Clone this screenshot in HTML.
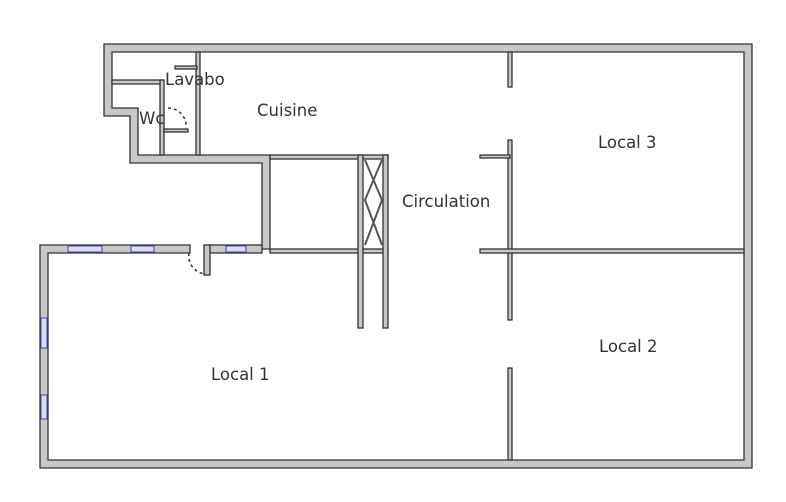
<!DOCTYPE html>
<html><head><meta charset="utf-8"><style>body{margin:0;background:#fff}svg{display:block}text{font-family:"DejaVu Sans","Liberation Sans",sans-serif;font-size:16.5px;fill:#333}</style></head>
<body>
<svg width="786" height="502" viewBox="0 0 786 502">
<g fill="#c8c8c8" stroke="#333" stroke-width="1.3">
<path d="M104,44 H752 V468 H40 V245 H190 V253 H48 V460 H744 V52 H112 V108 H138 V155 H270 V249 H262 V163 H130 V116 H104 Z"/>
<rect x="208" y="245" width="54" height="8"/>
<rect x="204" y="245" width="6" height="30"/>
<rect x="196" y="52" width="4" height="103"/>
<rect x="175" y="66" width="22" height="3"/>
<rect x="112" y="80" width="50" height="4"/>
<rect x="160" y="80" width="4" height="75"/>
<rect x="164" y="129" width="24" height="3"/>
<rect x="270" y="155" width="118" height="4"/>
<rect x="270" y="249" width="118" height="4"/>
<rect x="358" y="155" width="5" height="173"/>
<rect x="383" y="155" width="5" height="173"/>
<rect x="508" y="52" width="4" height="35"/>
<rect x="508" y="140" width="4" height="180"/>
<rect x="508" y="368" width="4" height="92"/>
<rect x="480" y="249" width="264" height="4"/>
<rect x="480" y="155" width="30" height="3"/>
</g>
<g stroke="#555" stroke-width="2" fill="none"><path d="M365,160 L382,200 L365,245 M382,160 L365,200 L382,245"/></g>
<g fill="#dde" stroke="#44c" stroke-width="1">
<rect x="68" y="246" width="34" height="6"/><rect x="131" y="246" width="23" height="6"/><rect x="226" y="246" width="20" height="6"/>
<rect x="41" y="318" width="6" height="30"/><rect x="41" y="395" width="6" height="24"/>
</g>
<g stroke="#333" stroke-width="1.5" fill="none" stroke-dasharray="3,3">
<path d="M189,253 A18,18 0 0 0 206,274"/>
<path d="M168,108 A18,18 0 0 1 186,128"/>
</g>
<text x="165" y="85">Lavabo</text>
<text x="139" y="124">Wc</text>
<text x="257" y="116">Cuisine</text>
<text x="402" y="207">Circulation</text>
<text x="598" y="148">Local 3</text>
<text x="599" y="352">Local 2</text>
<text x="211" y="380">Local 1</text>
</svg>
</body></html>
